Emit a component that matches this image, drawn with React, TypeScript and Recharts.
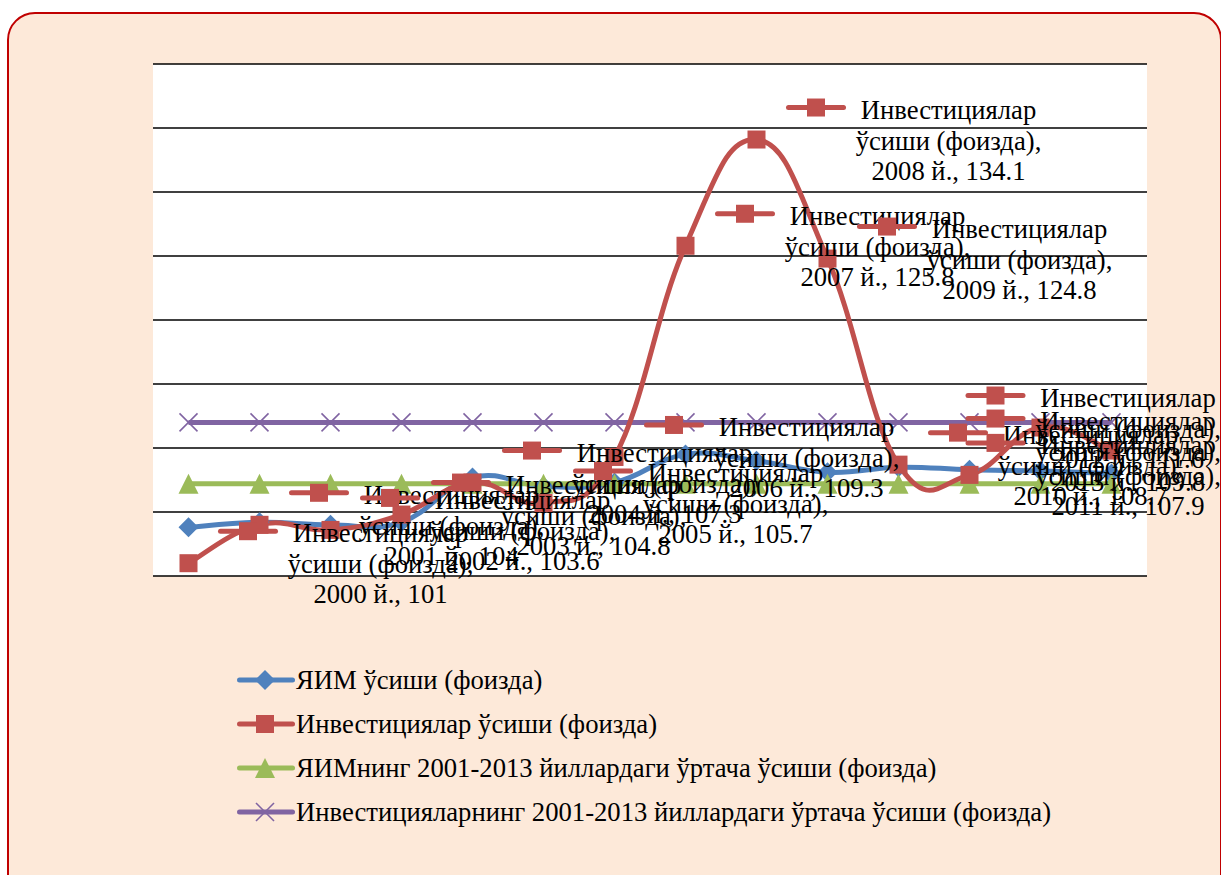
import React from 'react';
import { LineChart, Line, XAxis, YAxis, CartesianGrid, Legend, LabelList } from 'recharts';

// ---- data ----
const YEARS = ['2000', '2001', '2002', '2003', '2004', '2005', '2006', '2007', '2008', '2009', '2010', '2011', '2012', '2013'];
const GDP_GROWTH = [103.8, 104.2, 104.0, 104.2, 107.7, 107.0, 107.3, 109.5, 109.0, 108.1, 108.5, 108.3, 108.2, 108.0];
const INVEST_GROWTH = [101, 104, 103.6, 104.8, 107.3, 105.7, 109.3, 125.8, 134.1, 124.8, 108.7, 107.9, 111.6, 109.8];
const GDP_AVG = [107.2, 107.2, 107.2, 107.2, 107.2, 107.2, 107.2, 107.2, 107.2, 107.2, 107.2, 107.2, 107.2, 107.2];
const INVEST_AVG = [112.0, 112.0, 112.0, 112.0, 112.0, 112.0, 112.0, 112.0, 112.0, 112.0, 112.0, 112.0, 112.0, 112.0];
const Y_TICKS = [100, 105, 110, 115, 120, 125, 130, 135, 140];

const SERIES_NAMES = [
  'ЯИМ ўсиши (фоизда)',
  'Инвестициялар ўсиши (фоизда)',
  'ЯИМнинг 2001-2013 йиллардаги ўртача ўсиши (фоизда)',
  'Инвестицияларнинг 2001-2013 йиллардаги ўртача ўсиши (фоизда)',
];
const LABEL_LINE1 = 'Инвестициялар';
const LABEL_LINE2 = 'ўсиши (фоизда),';
const YEAR_SUFFIX = 'й.';

const data = YEARS.map((year, i) => ({
  year,
  gdp: GDP_GROWTH[i],
  inv: INVEST_GROWTH[i],
  gdpAvg: GDP_AVG[i],
  invAvg: INVEST_AVG[i],
}));

// ---- styles ----
const BLUE = '#4f81bd';
const RED = '#c0504d';
const GREEN = '#9bbb59';
const PURPLE = '#8064a2';
const FONT = "'Liberation Serif', 'Times New Roman', serif";
const FONT_SIZE = 26.67;
const SMOOTH = 0.21;

// Excel-like smoothed curve (cardinal bezier)
const excelCurve = (context: any) => {
  let pts: number[][] = [];
  return {
    areaStart() {},
    areaEnd() {},
    lineStart() {
      pts = [];
    },
    point(x: number, y: number) {
      pts.push([+x, +y]);
    },
    lineEnd() {
      const n = pts.length;
      if (!n) return;
      context.moveTo(pts[0][0], pts[0][1]);
      for (let i = 0; i < n - 1; i++) {
        const p0 = pts[i - 1] || pts[i];
        const p1 = pts[i];
        const p2 = pts[i + 1];
        const p3 = pts[i + 2] || pts[i + 1];
        const c1x = p1[0] + (p2[0] - p0[0]) * SMOOTH;
        const c1y = p1[1] + (p2[1] - p0[1]) * SMOOTH;
        const c2x = p2[0] - (p3[0] - p1[0]) * SMOOTH;
        const c2y = p2[1] - (p3[1] - p1[1]) * SMOOTH;
        context.bezierCurveTo(c1x, c1y, c2x, c2y, p2[0], p2[1]);
      }
    },
  };
};

const diamondPath = (cx: number, cy: number, r: number) =>
  `M${cx},${cy - r}L${cx + r},${cy}L${cx},${cy + r}L${cx - r},${cy}Z`;
const trianglePath = (cx: number, cy: number, r: number) =>
  `M${cx},${cy - r}L${cx + r},${cy + r}L${cx - r},${cy + r}Z`;

const Marker = ({ kind, cx, cy }: { kind: string; cx: number; cy: number }) => {
  if (kind === 'diamond') return <path d={diamondPath(cx, cy, 10)} fill={BLUE} />;
  if (kind === 'square') return <rect x={cx - 9} y={cy - 9} width={18} height={18} fill={RED} />;
  if (kind === 'triangle') return <path d={trianglePath(cx, cy, 10)} fill={GREEN} />;
  return (
    <g stroke={PURPLE} strokeWidth={1.6}>
      <line x1={cx - 9} y1={cy - 9} x2={cx + 9} y2={cy + 9} />
      <line x1={cx - 9} y1={cy + 9} x2={cx + 9} y2={cy - 9} />
    </g>
  );
};

const makeDot = (kind: string) => (p: any) => (
  <g key={`${kind}-${p.index}`}>
    <Marker kind={kind} cx={p.cx} cy={p.cy} />
  </g>
);

const LABEL_RIGHT_LIMIT = 1212;

const InvestLabel = (props: any) => {
  const vb = props.viewBox || {};
  const x = props.x ?? vb.x;
  const y = props.y ?? vb.y;
  const index = props.index;
  const value = props.value;
  if (x == null || y == null) return null;
  const shift = Math.min(0, LABEL_RIGHT_LIMIT - (x + 276));
  const kx = x + 32 + shift;
  const ky = y - 32;
  const tx = x + 192 + shift;
  return (
    <g>
      <line x1={kx} y1={ky} x2={kx + 55} y2={ky} stroke={RED} strokeWidth={5} strokeLinecap="round" />
      <rect x={kx + 27.5 - 9} y={ky - 9} width={18} height={18} fill={RED} />
      <text x={tx} textAnchor="middle" fontFamily={FONT} fontSize={FONT_SIZE} fill="#000">
        <tspan x={tx} y={y - 21}>{LABEL_LINE1}</tspan>
        <tspan x={tx} y={y + 10}>{LABEL_LINE2}</tspan>
        <tspan x={tx} y={y + 40}>{`${YEARS[index]} ${YEAR_SUFFIX}, ${value}`}</tspan>
      </text>
    </g>
  );
};

const LEGEND_ITEMS = [
  { name: SERIES_NAMES[0], color: BLUE, kind: 'diamond' },
  { name: SERIES_NAMES[1], color: RED, kind: 'square' },
  { name: SERIES_NAMES[2], color: GREEN, kind: 'triangle' },
  { name: SERIES_NAMES[3], color: PURPLE, kind: 'cross' },
];

const LegendContent = () => (
  <div style={{ fontFamily: FONT, fontSize: FONT_SIZE, color: '#000' }}>
    {LEGEND_ITEMS.map((it) => (
      <div key={it.name} style={{ display: 'flex', alignItems: 'center', height: 44, whiteSpace: 'nowrap' }}>
        <svg width={59} height={24} style={{ flex: 'none' }}>
          <line x1={2.5} y1={12} x2={55.5} y2={12} stroke={it.color} strokeWidth={5} strokeLinecap="round" />
          <Marker kind={it.kind} cx={28} cy={12} />
        </svg>
        <span style={{ lineHeight: '30px' }}>{it.name}</span>
      </div>
    ))}
  </div>
);

export default function App() {
  return (
    <div style={{ position: 'absolute', left: 0, top: 0, width: 1221, height: 875, overflow: 'hidden', background: '#fff' }}>
      <div
        style={{
          position: 'absolute',
          left: 7,
          top: 12,
          width: 1215,
          height: 900,
          border: '2px solid #c00000',
          borderRadius: 28,
          background: '#fde9d9',
          boxSizing: 'border-box',
        }}
      />
      <div style={{ position: 'absolute', left: 0, top: 0 }}>
        <LineChart width={1221} height={875} data={data} margin={{ top: 64, right: 74, bottom: 299, left: 153 }}>
          <CartesianGrid vertical={false} stroke="#000" strokeWidth={1.6} fill="#fff" fillOpacity={1} />
          <XAxis dataKey="year" hide padding={{ left: 35.5, right: 35.5 }} />
          <YAxis hide type="number" domain={[100, 140]} ticks={Y_TICKS} />
          <Legend
            layout="vertical"
            align="center"
            verticalAlign="middle"
            content={<LegendContent />}
            wrapperStyle={{ left: 237, top: 658, width: 900, height: 180 }}
          />
          <Line
            dataKey="gdp"
            name={SERIES_NAMES[0]}
            type={excelCurve as any}
            stroke={BLUE}
            strokeWidth={5}
            strokeLinecap="round"
            dot={makeDot('diamond')}
            activeDot={false}
            isAnimationActive={false}
          />
          <Line
            dataKey="gdpAvg"
            name={SERIES_NAMES[2]}
            type="linear"
            stroke={GREEN}
            strokeWidth={5}
            dot={makeDot('triangle')}
            activeDot={false}
            isAnimationActive={false}
          />
          <Line
            dataKey="invAvg"
            name={SERIES_NAMES[3]}
            type="linear"
            stroke={PURPLE}
            strokeWidth={5}
            dot={makeDot('cross')}
            activeDot={false}
            isAnimationActive={false}
          />
          <Line
            dataKey="inv"
            name={SERIES_NAMES[1]}
            type={excelCurve as any}
            stroke={RED}
            strokeWidth={5}
            strokeLinecap="round"
            dot={makeDot('square')}
            activeDot={false}
            isAnimationActive={false}
          >
            <LabelList dataKey="inv" content={<InvestLabel />} />
          </Line>
        </LineChart>
      </div>
    </div>
  );
}
